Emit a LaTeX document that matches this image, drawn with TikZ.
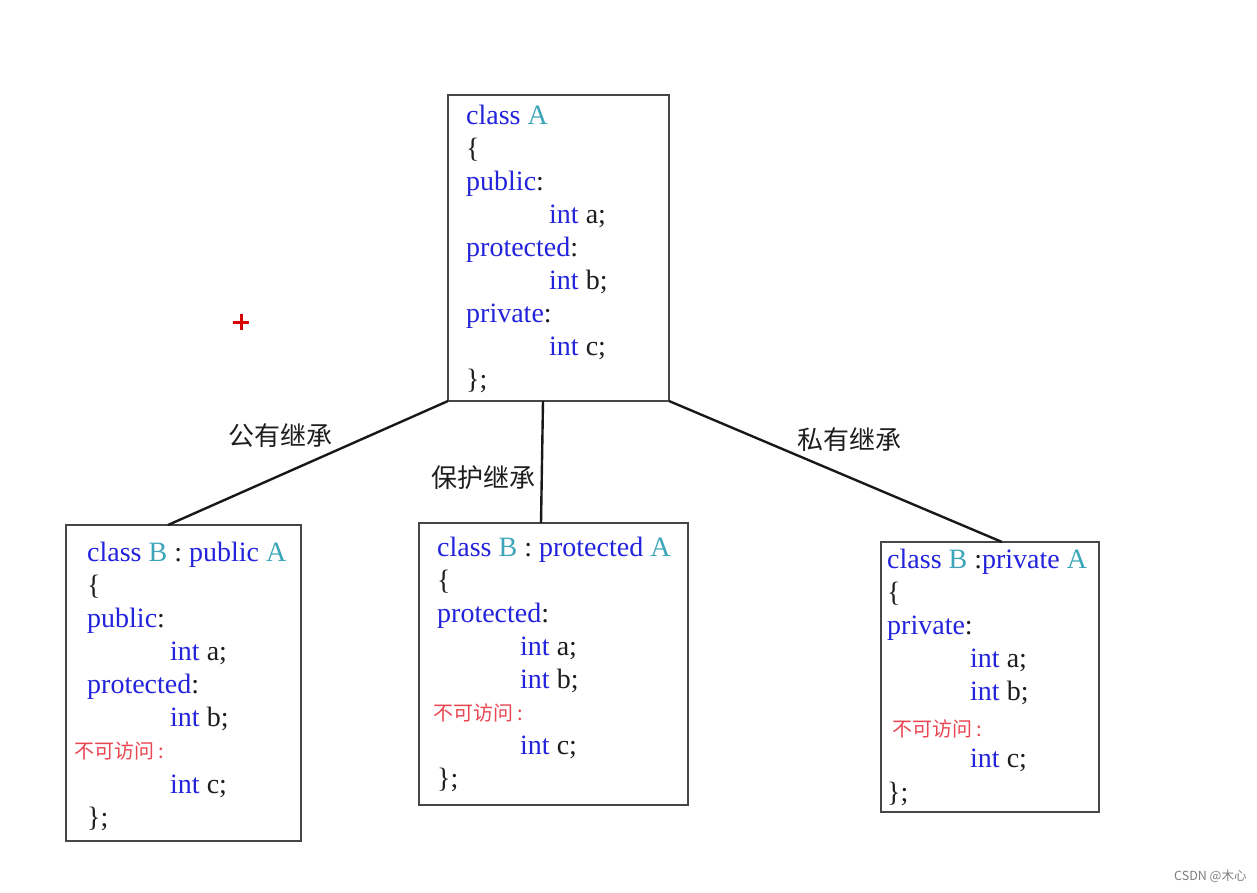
\documentclass[tikz,border=0pt]{standalone}
\usepackage{fontspec}
\setmainfont{Liberation Serif}
\newfontfamily\cjk{Noto Sans CJK SC}
\definecolor{kwblue}{RGB}{35,35,220}
\definecolor{clsteal}{RGB}{60,165,185}
\definecolor{txtblack}{RGB}{30,30,30}
\definecolor{redtxt}{RGB}{232,70,82}
\definecolor{boxgray}{RGB}{70,70,70}
\newcommand\mykw[1]{\textcolor{kwblue}{#1}}
\newcommand\mycl[1]{\textcolor{clsteal}{#1}}
\newcommand\mytx[1]{\textcolor{txtblack}{#1}}
\begin{document}
\begin{tikzpicture}[x=1pt,y=-1pt,
  classbox/.style={draw=boxgray, line width=1.5pt, anchor=north west, inner sep=0pt, outer sep=0pt},
  code/.style={anchor=base west, inner sep=0pt, font=\fontsize{28}{33}\selectfont, text=kwblue},
  noacc/.style={anchor=base west, inner sep=0pt, font=\cjk\fontsize{20}{22}\selectfont, text=redtxt},
  edgelabel/.style={inner sep=0pt, font=\cjk\fontsize{26}{30}\selectfont, text=txtblack},
  link/.style={line width=2.4pt, draw=black!90}
]
\fill[white] (0,0) rectangle (1257,892);
\useasboundingbox (0,0) rectangle (1257,892);

% ---- class A ----
\node[classbox, minimum width=221pt, minimum height=306pt] (A) at (448,95) {};
\node[code] (a1) at (466,124) {class \mycl{A}};
\node[code] (a2) at (466,157) {\mytx{\{}};
\node[code] (a3) at (466,190) {public\mytx{:}};
\node[code] (a4) at (549,223) {int \mytx{a;}};
\node[code] (a5) at (466,256) {protected\mytx{:}};
\node[code] (a6) at (549,289) {int \mytx{b;}};
\node[code] (a7) at (466,322) {private\mytx{:}};
\node[code] (a8) at (549,355) {int \mytx{c;}};
\node[code] (a9) at (466,388) {\mytx{\};}};

% ---- class B : public A ----
\node[classbox, minimum width=235pt, minimum height=316pt] (B1) at (66,525) {};
\node[code] (p1) at (87,561) {class \mycl{B} \mytx{:} public \mycl{A}};
\node[code] (p2) at (87,594) {\mytx{\{}};
\node[code] (p3) at (87,627) {public\mytx{:}};
\node[code] (p4) at (170,660) {int \mytx{a;}};
\node[code] (p5) at (87,693) {protected\mytx{:}};
\node[code] (p6) at (170,726) {int \mytx{b;}};
\node[noacc] (p7) at (74,758) {不可访问 :};
\node[code] (p8) at (170,793) {int \mytx{c;}};
\node[code] (p9) at (87,826) {\mytx{\};}};

% ---- class B : protected A ----
\node[classbox, minimum width=269pt, minimum height=282pt] (B2) at (419,523) {};
\node[code] (q1) at (437,556) {class \mycl{B} \mytx{:} protected \mycl{A}};
\node[code] (q2) at (437,589) {\mytx{\{}};
\node[code] (q3) at (437,622) {protected\mytx{:}};
\node[code] (q4) at (520,655) {int \mytx{a;}};
\node[code] (q5) at (520,688) {int \mytx{b;}};
\node[noacc] (q6) at (433,720) {不可访问 :};
\node[code] (q7) at (520,754) {int \mytx{c;}};
\node[code] (q8) at (437,787) {\mytx{\};}};

% ---- class B :private A ----
\node[classbox, minimum width=218pt, minimum height=270pt] (B3) at (881,542) {};
\node[code] (r1) at (887,568) {class \mycl{B} \mytx{:}private \mycl{A}};
\node[code] (r2) at (887,601) {\mytx{\{}};
\node[code] (r3) at (887,634) {private\mytx{:}};
\node[code] (r4) at (970,667) {int \mytx{a;}};
\node[code] (r5) at (970,700) {int \mytx{b;}};
\node[noacc] (r6) at (892,736) {不可访问 :};
\node[code] (r7) at (970,767) {int \mytx{c;}};
\node[code] (r8) at (887,801) {\mytx{\};}};

% ---- connectors ----
\draw[link] (A.south west) -- ([xshift=102pt]B1.north west);
\draw[link] ([xshift=95pt]A.south west) -- ([xshift=122pt]B2.north west);
\draw[link] (A.south east) -- ([xshift=121pt]B3.north west);

% ---- labels ----
\node[edgelabel] (l1) at (280,436) {公有继承};
\node[edgelabel] (l2) at (483,478) {保护继承};
\node[edgelabel] (l3) at (849,440) {私有继承};

% ---- cursor mark ----
\draw[red!85!black, line width=3pt] (233,322) -- (249,322) (241,314) -- (241,330);

% ---- watermark ----
\node[anchor=west, inner sep=0pt, font=\cjk\fontsize{12.5}{14}\selectfont, text=black!50] (wm) at (1174,876) {CSDN @木心};
\end{tikzpicture}
\end{document}
